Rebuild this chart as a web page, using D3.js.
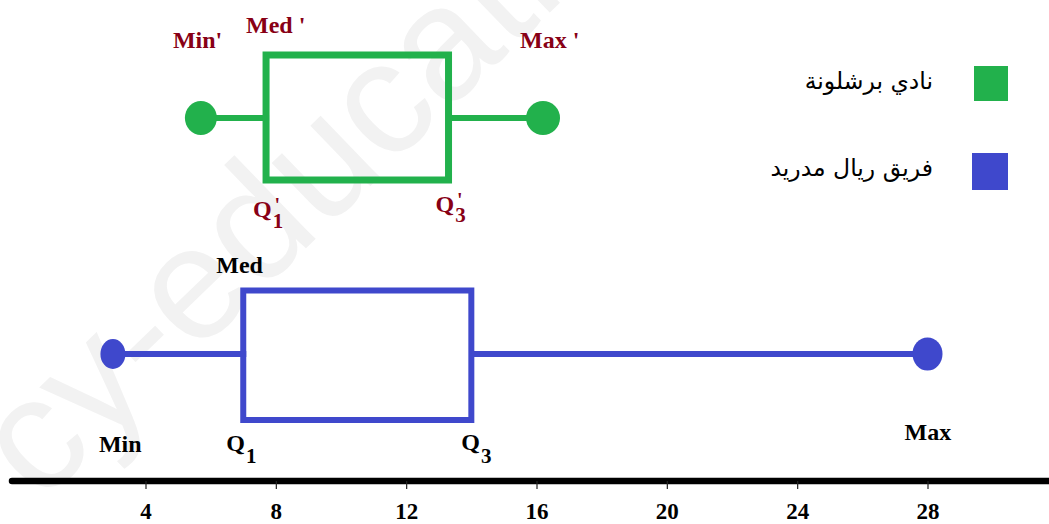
<!DOCTYPE html>
<html>
<head>
<meta charset="utf-8">
<script src="https://cdn.jsdelivr.net/npm/d3@7"></script>
<style>
  html, body { margin: 0; padding: 0; background: #ffffff; }
  svg { display: block; }
</style>
</head>
<body>
<svg id="chart" width="1049" height="524"></svg>
<script>
// ---------- data ----------
const teams = ["نادي برشلونة", "فريق ريال مدريد"];
const teamColors = ["#22b14c", "#3f48cc"];
// five-number summaries: [min, q1, q3, max]
const barcaStats = [5.7, 7.7, 13.3, 16.2];
const realStats  = [3, 7, 14, 28];
const tickValues = [4, 8, 12, 16, 20, 24, 28];
const barcaLabels = ["Min'", "Med '", "Max '"];
const realLabels  = ["Min", "Med", "Max"];

// ---------- setup ----------
const svg = d3.select("#chart");
const W = 1049, H = 524;
const x = d3.scaleLinear().domain([4, 28]).range([145.5, 927.5]);
const serif = "'Liberation Serif', 'Times New Roman', serif";
const arabicFont = "'DejaVu Sans', sans-serif";

// watermark
svg.append("text")
  .attr("transform", "translate(40,505) rotate(-44)")
  .attr("font-family", "'Liberation Sans', Arial, sans-serif")
  .attr("font-size", 161)
  .attr("fill", "#f2f2f2")
  .text("cy-educati");

// ---------- axis ----------
const axisY = 481;
svg.append("line")
  .attr("x1", 12).attr("x2", W + 10)
  .attr("y1", axisY).attr("y2", axisY)
  .attr("stroke", "#000").attr("stroke-width", 6.5)
  .attr("stroke-linecap", "round");

const axis = d3.axisBottom(x).tickValues(tickValues).tickSize(8).tickPadding(14).tickFormat(d3.format("d"));
const gAxis = svg.append("g").attr("transform", `translate(0,${axisY})`).call(axis);
gAxis.select(".domain").remove();
gAxis.selectAll(".tick line").attr("stroke", "#222").attr("stroke-width", 1.2);
gAxis.selectAll(".tick text")
  .attr("font-family", serif).attr("font-weight", "bold")
  .attr("font-size", 23).attr("fill", "#000");

// ---------- box plot drawer ----------
function drawBox(stats, color, cfg) {
  const [mn, q1, q3, mx] = stats;
  const g = svg.append("g");
  g.append("line").attr("x1", x(mn)).attr("x2", x(q1) + 3)
    .attr("y1", cfg.mid).attr("y2", cfg.mid)
    .attr("stroke", color).attr("stroke-width", 6);
  g.append("line").attr("x1", x(q3)).attr("x2", x(mx))
    .attr("y1", cfg.mid).attr("y2", cfg.mid)
    .attr("stroke", color).attr("stroke-width", 6);
  g.append("rect")
    .attr("x", x(q1)).attr("y", cfg.top)
    .attr("width", x(q3) - x(q1)).attr("height", cfg.bottom - cfg.top)
    .attr("fill", "none").attr("stroke", color).attr("stroke-width", cfg.sw);
  g.append("ellipse").attr("cx", x(mn)).attr("cy", cfg.mid)
    .attr("rx", cfg.r1[0]).attr("ry", cfg.r1[1]).attr("fill", color);
  g.append("ellipse").attr("cx", x(mx)).attr("cy", cfg.mid)
    .attr("rx", cfg.r2[0]).attr("ry", cfg.r2[1]).attr("fill", color);
}

drawBox(barcaStats, teamColors[0], { top: 55, bottom: 180, mid: 118, sw: 7, r1: [16, 17], r2: [17, 17] });
drawBox(realStats, teamColors[1], { top: 290.5, bottom: 420, mid: 354, sw: 6, r1: [12.5, 15], r2: [15, 16.5] });

// ---------- labels ----------
function label(txt, xx, yy, color) {
  return svg.append("text").attr("x", xx).attr("y", yy)
    .attr("font-family", serif).attr("font-weight", "bold")
    .attr("font-size", 24).attr("fill", color).text(txt);
}
function qLabel(sub, xx, yy, color, prime, subDy) {
  const t = svg.append("text").attr("x", xx).attr("y", yy)
    .attr("font-family", serif).attr("font-weight", "bold")
    .attr("font-size", 24).attr("fill", color);
  t.append("tspan").text("Q");
  t.append("tspan").attr("dx", 1).attr("dy", subDy).attr("font-size", 21).text(sub);
  if (prime) {
    const bb = t.node().getBBox();
    svg.append("text").attr("x", bb.x + bb.width - 6).attr("y", yy - 5)
      .attr("font-family", serif).attr("font-weight", "bold")
      .attr("font-size", 20).attr("fill", color).attr("text-anchor", "middle").text("'");
  }
}

const dark = "#880015";
const [bMin, bQ1, bQ3, bMax] = barcaStats;
label(barcaLabels[0], x(bMin) - 28, 48, dark);
label(barcaLabels[1], x(bQ1) - 20, 33, dark);
label(barcaLabels[2], x(bMax) - 23, 48, dark);
qLabel("1", x(bQ1) - 13, 217, dark, true, 11);
qLabel("3", x(bQ3) - 13, 212, dark, true, 10);

const [rMin, rQ1, rQ3, rMax] = realStats;
label(realLabels[0], x(rMin) - 14, 452, "#000");
label(realLabels[1], x(rQ1) - 27, 273, "#000");
label(realLabels[2], x(rMax) - 23, 440, "#000");
qLabel("1", x(rQ1) - 17, 451, "#000", false, 12);
qLabel("3", x(rQ3) - 10, 450, "#000", false, 13);

// ---------- legend ----------
const legendY = [66, 153];
const legendSize = [[34, 35], [36, 37]];
const legendX = [974, 972];
teams.forEach((t, i) => {
  svg.append("rect").attr("x", legendX[i]).attr("y", legendY[i])
    .attr("width", legendSize[i][0]).attr("height", legendSize[i][1])
    .attr("fill", teamColors[i]);
  svg.append("text").attr("x", 933).attr("y", legendY[i] + 23)
    .attr("font-family", arabicFont).attr("font-size", 23.5)
    .attr("fill", "#000").attr("text-anchor", "end")
    .text(t);
});
</script>
</body>
</html>
